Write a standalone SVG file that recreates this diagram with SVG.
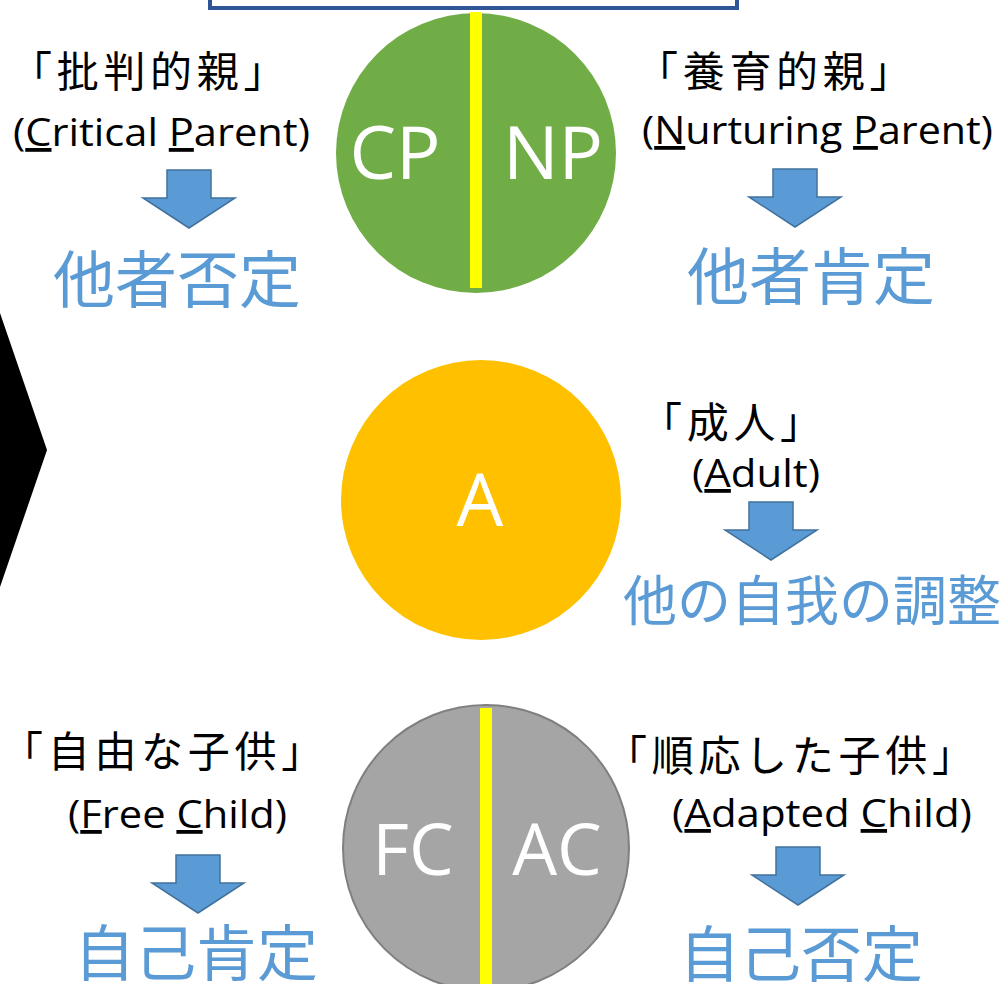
<svg xmlns="http://www.w3.org/2000/svg" width="1002" height="984" viewBox="0 0 1002 984">
<style>
.jp{font-family:"Noto Sans CJK JP","Noto Sans CJK SC",sans-serif;fill:#000;font-size:42px;letter-spacing:4.7px}
.en{font-family:"Open Sans","Noto Sans",sans-serif;fill:#000;font-size:38px}
.res{font-family:"Noto Sans CJK JP","Noto Sans CJK SC",sans-serif;fill:#5B9BD5;text-anchor:middle}
.big{font-family:"Open Sans","Noto Sans",sans-serif;fill:#fff;font-size:74px;text-anchor:middle}
.u{text-decoration:underline}
.arrow{fill:#5B9BD5;stroke:#41719C;stroke-width:1.5;stroke-linejoin:miter}
.div{fill:#FFFF00}
</style>
<defs>
<path id="down" d="M-22,0 H22 V28 H46 L0,58 L-46,28 H-22 Z"/>
</defs>
<rect width="1002" height="984" fill="#fff"/>
<g id="topbox">
<rect x="210" y="-20" width="527" height="28" fill="#fff" stroke="#2F5597" stroke-width="4"/>
</g>
<g id="chevron">
<polygon points="-1,310 47,450 -1,590" fill="#000"/>
</g>
<g id="parent">
<circle cx="476" cy="153" r="140" fill="#70AD47"/>
<rect class="div" x="470" y="12" width="12" height="276"/>
<text class="big" x="395" y="179">CP</text>
<text class="big" x="553" y="179">NP</text>
</g>
<g id="adult">
<circle cx="481" cy="500" r="140" fill="#FFC000"/>
<text class="big" x="480" y="526">A</text>
</g>
<g id="child">
<circle cx="486" cy="848" r="143" fill="#A5A5A5" stroke="#7F7F7F" stroke-width="2"/>
<rect class="div" x="480" y="708" width="12" height="280"/>
<text class="big" x="413" y="875" style="font-size:71px">FC</text>
<text class="big" x="557" y="875" style="font-size:71px">AC</text>
</g>
<g id="cp-label">
<text class="jp" x="10" y="87">「批判的親」</text>
<text class="en" x="13" y="146" textLength="297" lengthAdjust="spacingAndGlyphs">(<tspan class="u">C</tspan>ritical <tspan class="u">P</tspan>arent)</text>
<text class="res" x="177" y="303" style="font-size:62px">他者否定</text>
</g>
<g id="np-label">
<text class="jp" x="636" y="87">「養育的親」</text>
<text class="en" x="642" y="144" textLength="351" lengthAdjust="spacingAndGlyphs">(<tspan class="u">N</tspan>urturing <tspan class="u">P</tspan>arent)</text>
<text class="res" x="811" y="300" style="font-size:62px">他者肯定</text>
</g>
<g id="a-label">
<text class="jp" x="640" y="438">「成人」</text>
<text class="en" x="692" y="487" textLength="128" lengthAdjust="spacingAndGlyphs">(<tspan class="u">A</tspan>dult)</text>
<text class="res" x="812" y="621" style="font-size:54px">他の自我の調整</text>
</g>
<g id="fc-label">
<text class="jp" x="1" y="767">「自由な子供」</text>
<text class="en" x="68" y="828" textLength="219" lengthAdjust="spacingAndGlyphs">(<tspan class="u">F</tspan>ree <tspan class="u">C</tspan>hild)</text>
<text class="res" x="196" y="976" style="font-size:61px">自己肯定</text>
</g>
<g id="ac-label">
<text class="jp" x="605" y="771">「順応した子供」</text>
<text class="en" x="672" y="827" textLength="300" lengthAdjust="spacingAndGlyphs">(<tspan class="u">A</tspan>dapted <tspan class="u">C</tspan>hild)</text>
<text class="res" x="801" y="977" style="font-size:61px">自己否定</text>
</g>
<g id="connectors">
<use href="#down" class="arrow" transform="translate(189,170)"/>
<use href="#down" class="arrow" transform="translate(795,169)"/>
<use href="#down" class="arrow" transform="translate(771,502)"/>
<use href="#down" class="arrow" transform="translate(198,855)"/>
<use href="#down" class="arrow" transform="translate(798,847)"/>
</g>
</svg>
